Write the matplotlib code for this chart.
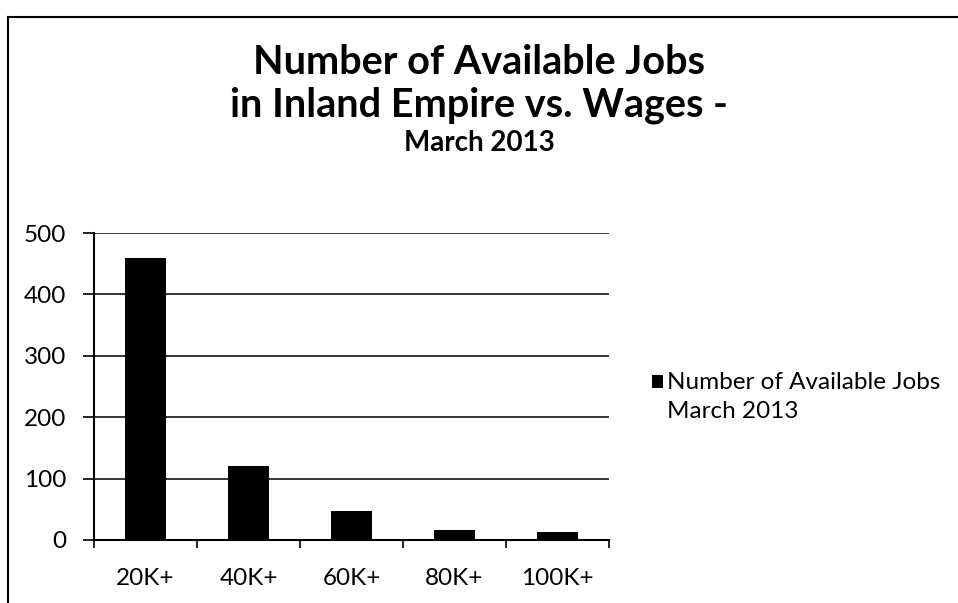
import matplotlib
matplotlib.use('Agg')
import matplotlib.pyplot as plt
from matplotlib.container import BarContainer
from matplotlib.legend_handler import HandlerPatch, update_from_first_child
from matplotlib.lines import Line2D
from matplotlib.patches import Rectangle

# --- Data ---
categories = ['20K+', '40K+', '60K+', '80K+', '100K+']
jobs = [460, 120, 48, 16, 13]
y_ticks = [0, 100, 200, 300, 400, 500]
series_label = 'Number of Available Jobs\nMarch 2013'

FONT = 'Lato'
plt.rcParams['font.family'] = [FONT, 'DejaVu Sans']

fig = plt.figure(figsize=(9.58, 6.03), dpi=100)
fig.patch.set_facecolor('white')

# --- Plot area ---
ax = fig.add_axes([94 / 958, 1 - 540 / 603, (609 - 94) / 958, (540 - 233) / 603])
x = list(range(len(categories)))
ax.bar(x, jobs, width=0.4, color='black', zorder=3, label=series_label)

ax.set_xlim(-0.5, len(categories) - 0.5)
ax.set_ylim(0, 500)
ax.set_yticks(y_ticks)
ax.set_yticklabels([str(v) for v in y_ticks], fontsize=17.5)
ax.set_xticks(x)
ax.set_xticklabels(categories, fontsize=17.5)
ax.set_xticks([i - 0.5 for i in range(len(categories) + 1)], minor=True)

ax.tick_params(axis='y', length=8, width=1.2, pad=12, colors='black')
ax.tick_params(axis='x', which='major', length=0, pad=20)
ax.tick_params(axis='x', which='minor', length=6, width=1.2)

ax.yaxis.grid(True, color='black', linewidth=1.1)
ax.set_axisbelow(True)
for side in ('top', 'right'):
    ax.spines[side].set_visible(False)
for side in ('left', 'bottom'):
    ax.spines[side].set_linewidth(1.5)
    ax.spines[side].set_color('black')


# square handle lifted to sit beside the first line of the label
def top_square(legend, orig_handle, xdescent, ydescent, width, height, fontsize):
    return Rectangle((-xdescent, -ydescent + 0.62 * fontsize), width, height)


leg = ax.legend(
    loc='center left',
    bbox_to_anchor=(640 / 958, 1 - 397 / 603),
    bbox_transform=fig.transFigure,
    frameon=False,
    fontsize=17.5,
    handlelength=0.45,
    handleheight=0.45,
    handletextpad=0.15,
    borderpad=0,
    handler_map={BarContainer: HandlerPatch(patch_func=top_square,
                                            update_func=update_from_first_child)},
)
for t in leg.get_texts():
    t.set_linespacing(1.45)

# --- Titles ---
fig.text(0.5, 1 - 63 / 603, 'Number of Available Jobs', ha='center', va='center',
         fontsize=28.5, fontweight='bold')
fig.text(0.5, 1 - 105 / 603, 'in Inland Empire vs. Wages -', ha='center', va='center',
         fontsize=28.5, fontweight='bold')
fig.text(0.5, 1 - 143 / 603, 'March 2013', ha='center', va='center',
         fontsize=20, fontweight='bold')

# --- Chart border (left and top edges) ---
bx, by = 8 / 958, 1 - 17 / 603
fig.add_artist(Line2D([bx, bx], [0, by], transform=fig.transFigure, color='black', linewidth=1.5))
fig.add_artist(Line2D([bx, 1], [by, by], transform=fig.transFigure, color='black', linewidth=1.5))

fig.savefig('out.png', dpi=100)
